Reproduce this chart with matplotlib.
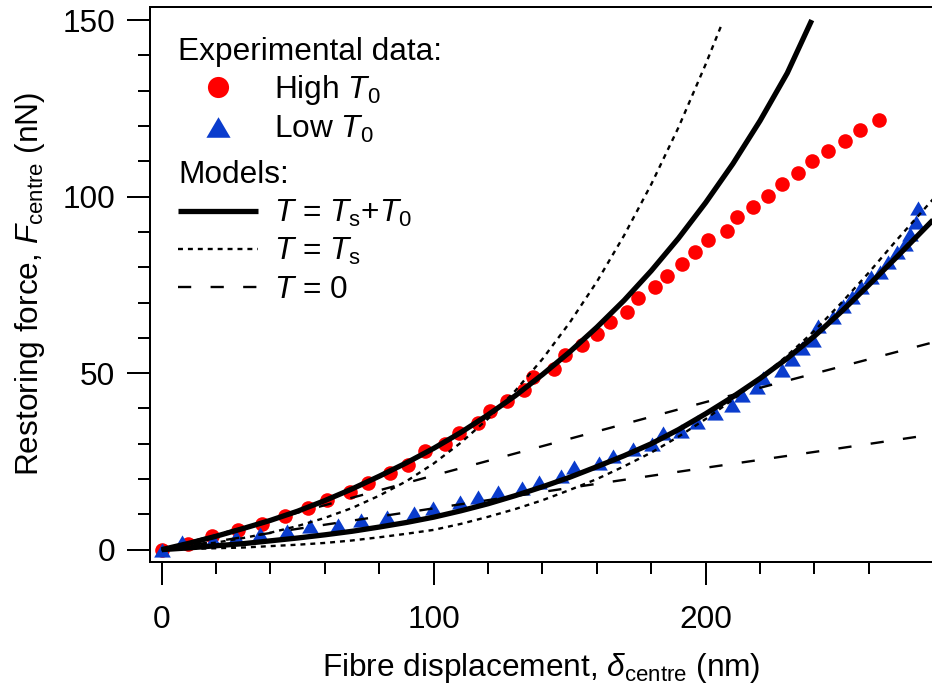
import matplotlib
matplotlib.use("Agg")
import matplotlib.pyplot as plt
from matplotlib.lines import Line2D
from matplotlib.ticker import FixedLocator, MultipleLocator

plt.rcParams['font.family'] = ['Liberation Sans', 'DejaVu Sans']
plt.rcParams['mathtext.fontset'] = 'custom'
plt.rcParams['mathtext.rm'] = 'Liberation Sans'
plt.rcParams['mathtext.it'] = 'Liberation Sans:italic'
plt.rcParams['mathtext.bf'] = 'Liberation Sans:bold'

# Experimental data: centre displacement (nm) and restoring force (nN)
high_x = [0, 9.8, 18.4, 28.2, 36.8, 45.3, 53.9, 60.7, 69.2, 76.0, 83.9, 90.7,
          96.8, 104.2, 109.2, 116.4, 120.7, 126.9, 133.1, 136.6, 144.2, 148.1,
          154.5, 159.9, 164.8, 171.2, 175.2, 181.4, 185.9, 191.2, 196.1, 201.0,
          207.7, 211.4, 217.5, 222.8, 228.2, 233.8, 239.0, 245.1, 251.2, 256.7,
          263.8]
high_f = [0, 1.6, 4.0, 5.5, 7.4, 9.6, 11.7, 14.2, 16.4, 19.0, 21.6, 23.9,
          27.9, 30.0, 33.1, 35.8, 39.3, 42.2, 45.2, 49.0, 51.3, 55.1,
          57.9, 61.2, 64.5, 67.4, 71.2, 74.3, 77.6, 80.9, 84.2, 87.7,
          90.3, 94.1, 97.1, 100.2, 103.5, 106.7, 110.0, 113.0, 115.8, 118.9,
          121.7]

low_x = [0, 7.4, 18.9, 27.4, 36.1, 46.0, 54.4, 64.9, 73.2, 82.9, 92.8, 99.9,
         109.7, 116.4, 123.6, 132.5, 138.8, 146.8, 151.6, 160.9, 165.8, 173.3,
         180.3, 184.3, 190.9, 196.7, 203.4, 209.6, 213.2, 218.8, 221.2, 227.9,
         231.6, 235.3, 239.6, 241.4, 246.9, 250.6, 253.7, 257.1, 260.8, 264.1,
         267.0, 270.3, 273.3, 275.1, 277.5, 277.9]
low_f = [0, 2.2, 2.6, 3.6, 4.4, 5.2, 6.7, 6.9, 8.4, 9.2, 10.3, 11.7,
         13.5, 15.0, 16.3, 17.5, 19.2, 20.8, 23.5, 24.4, 26.6, 28.4,
         30.0, 32.9, 33.7, 36.2, 38.6, 40.9, 43.8, 46.1, 48.5, 51.0,
         53.9, 57.0, 59.3, 63.3, 66.0, 69.0, 71.7, 74.4, 77.2, 78.6,
         81.4, 84.3, 86.5, 89.4, 92.8, 96.7]

# Model curves (force vs displacement), sampled every 10 nm
full_high_x = [0, 10, 20, 30, 40, 50, 60, 70, 80, 90, 100, 110, 120, 130, 140,
               150, 160, 170, 180, 190, 200, 210, 220, 230, 239]
full_high_f = [0, 1.8, 3.8, 6.0, 8.3, 10.9, 13.9, 17.2, 20.8, 24.6, 28.7, 33.2,
               38.2, 43.6, 49.6, 56.0, 63.0, 70.6, 79.0, 88.2, 98.3, 109.3,
               121.5, 135.0, 150.0]
ts_high_x = [0, 10, 20, 30, 40, 50, 60, 70, 80, 90, 100, 110, 120, 130, 140,
             150, 160, 170, 180, 190, 200, 206]
ts_high_f = [0, 1.0, 2.0, 3.3, 4.8, 6.7, 9.0, 11.8, 15.3, 19.4, 24.4, 30.3,
             37.1, 45.0, 54.0, 64.3, 75.9, 89.0, 103.5, 119.6, 137.5, 149.0]
zero_high_x = [0, 50, 100, 150, 200, 250, 285]
zero_high_f = [0, 10.5, 21.0, 31.4, 41.8, 51.9, 59.0]

full_low_x = [0, 10, 20, 30, 40, 50, 60, 70, 80, 90, 100, 110, 120, 130, 140,
              150, 160, 170, 180, 190, 200, 210, 220, 230, 240, 250, 260, 270, 285]
full_low_f = [0, 0.5, 1.1, 1.7, 2.5, 3.3, 4.2, 5.2, 6.4, 7.7, 9.2, 11.0, 13.0,
              15.3, 17.8, 20.5, 23.5, 26.6, 30.0, 34.0, 38.5, 43.3, 48.5, 54.2,
              60.5, 67.5, 75.0, 82.7, 94.5]
ts_low_x = [0, 10, 20, 30, 40, 50, 60, 70, 80, 90, 100, 110, 120, 130, 140,
            150, 160, 170, 180, 190, 200, 210, 220, 230, 240, 250, 260, 270, 285]
ts_low_f = [0, 0.2, 0.4, 0.6, 1.0, 1.4, 1.9, 2.6, 3.5, 4.5, 5.6, 7.3, 9.3, 11.5,
            14.0, 16.9, 20.0, 23.6, 27.5, 32.0, 37.0, 42.5, 48.5, 55.0, 62.0,
            70.0, 78.5, 87.5, 100.5]
zero_low_x = [0, 50, 100, 150, 200, 250, 285]
zero_low_f = [0, 5.9, 11.7, 17.5, 23.2, 28.8, 32.8]

RED = '#FF0000'
BLUE = '#0A3CCD'
FS = 22.8
TRI = [(0, 0.85), (-1, -0.85), (1, -0.85)]

solid = dict(color='black', lw=3.8, ls='-', solid_capstyle='butt', solid_joinstyle='round')
dotted = dict(color='black', lw=1.7, ls=(0, (2.1, 2.1)))
dashed = dict(color='black', lw=1.7, ls=(0, (5.6, 8.2)))

fig = plt.figure(figsize=(9.32, 6.92), dpi=100)
ax = fig.add_axes([150 / 932, 130 / 692, 782 / 932, 555 / 692])

ax.plot(high_x, high_f, ls='none', marker='o', ms=10.5, color=RED, mec='none', zorder=2)
ax.plot(low_x, low_f, ls='none', marker=TRI, ms=12, color=BLUE, mec='none', zorder=2)

for xs, fs in [(zero_high_x, zero_high_f), (zero_low_x, zero_low_f)]:
    ax.plot(xs, fs, zorder=3, **dashed)
for xs, fs in [(ts_high_x, ts_high_f), (ts_low_x, ts_low_f)]:
    ax.plot(xs, fs, zorder=3, **dotted)
for xs, fs in [(full_high_x, full_high_f), (full_low_x, full_low_f)]:
    ax.plot(xs, fs, zorder=4, **solid)

ax.set_xlim(-4.3, 283.2)
ax.set_ylim(-3.5, 153.7)

ax.set_xticks([0, 100, 200])
ax.xaxis.set_minor_locator(FixedLocator([20, 40, 60, 80, 120, 140, 160, 180, 220, 240, 260]))
ax.set_yticks([0, 50, 100, 150])
ax.yaxis.set_minor_locator(MultipleLocator(10))
ax.tick_params(which='major', length=16.6, width=1.44, direction='out', labelsize=FS)
ax.tick_params(axis='x', which='major', pad=14)
ax.tick_params(axis='y', which='major', pad=8.5)
ax.tick_params(which='minor', length=8.3, width=1.44, direction='out')

for side in ['left', 'bottom', 'top']:
    ax.spines[side].set_linewidth(1.44)
ax.spines['right'].set_visible(False)

ax.set_xlabel(r'Fibre displacement, $\delta_{\mathrm{centre}}$ (nm)', fontsize=FS, labelpad=12)
ax.set_ylabel(r'Restoring force, $F_{\mathrm{centre}}$ (nN)', fontsize=FS, labelpad=11)

h_high = Line2D([], [], ls='none', marker='o', ms=10.5, color=RED, mec='none')
h_low = Line2D([], [], ls='none', marker=TRI, ms=12, color=BLUE, mec='none')
leg1 = ax.legend([h_high, h_low], [r'High $T_0$', r'Low $T_0$'],
                 title='Experimental data:', title_fontsize=FS, fontsize=FS,
                 loc='upper left', bbox_to_anchor=(178 / 932, 1 - 37 / 692),
                 bbox_transform=fig.transFigure, frameon=False, alignment='left',
                 handlelength=2.52, handletextpad=0.5, labelspacing=0.2,
                 borderpad=0, borderaxespad=0, markerscale=1.45)
ax.add_artist(leg1)

h_full = Line2D([], [], **solid)
h_ts = Line2D([], [], **dotted)
h_zero = Line2D([], [], **dashed)
leg2 = ax.legend([h_full, h_ts, h_zero],
                 [r'$T$ = $T_{\mathrm{s}}$+$T_0$', r'$T$ = $T_{\mathrm{s}}$', r'$T$ = 0'],
                 title='Models:', title_fontsize=FS, fontsize=FS,
                 loc='upper left', bbox_to_anchor=(178 / 932, 1 - 160 / 692),
                 bbox_transform=fig.transFigure, frameon=False, alignment='left',
                 handlelength=2.52, handletextpad=0.5, labelspacing=0.24,
                 borderpad=0, borderaxespad=0)

fig.savefig('out.png', dpi=100)
